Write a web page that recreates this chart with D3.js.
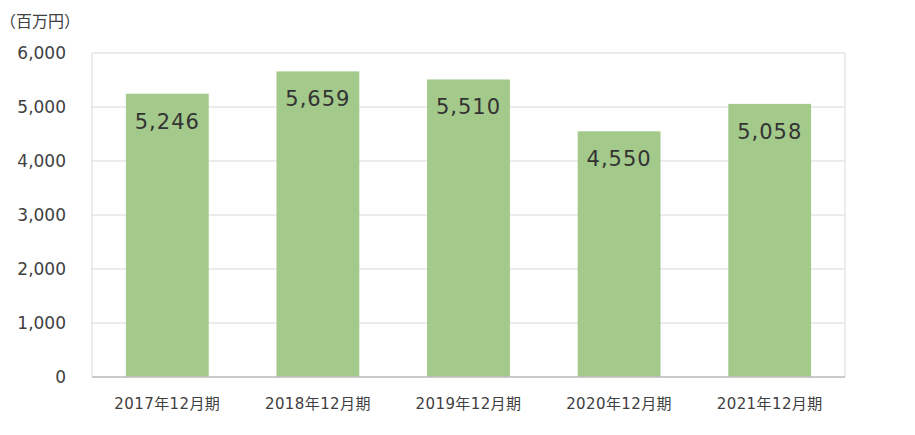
<!DOCTYPE html>
<html>
<head>
<meta charset="utf-8">
<script src="https://cdn.jsdelivr.net/npm/d3@7"></script>
<style>
  body { margin: 0; background: #fff; }
  svg { display: block; }
</style>
</head>
<body>
<svg id="chart"></svg>
<script>
// Chart data
var categories = ["2017年12月期", "2018年12月期", "2019年12月期", "2020年12月期", "2021年12月期"];
var values = [5246, 5659, 5510, 4550, 5058];
var yTicks = [0, 1000, 2000, 3000, 4000, 5000, 6000];
var unitLabel = "（百万円）";

var svgWidth = 915;
var svgHeight = 435;
var margin = { top: 53, right: 70, bottom: 58, left: 92 };
var chartWidth = svgWidth - margin.left - margin.right;
var chartHeight = svgHeight - margin.top - margin.bottom;

var svg = d3.select("#chart")
  .attr("width", svgWidth)
  .attr("height", svgHeight);

var chart = svg.append("g")
  .attr("transform", "translate(" + margin.left + "," + margin.top + ")");

var xScale = d3.scaleBand()
  .domain(categories)
  .range([0, chartWidth])
  .paddingInner(0.45)
  .paddingOuter(0.225);

var yScale = d3.scaleLinear()
  .domain([0, 6000])
  .range([chartHeight, 0]);

var fmt = d3.format(",");

// Gridlines
chart.selectAll(".grid")
  .data(yTicks)
  .enter()
  .append("line")
  .attr("class", "grid")
  .attr("x1", 0)
  .attr("x2", chartWidth)
  .attr("y1", function (d) { return yScale(d); })
  .attr("y2", function (d) { return yScale(d); })
  .attr("stroke", "#d9d9d9")
  .attr("stroke-width", 1);

// Plot border (left and right)
chart.append("line")
  .attr("x1", 0).attr("x2", 0)
  .attr("y1", 0).attr("y2", chartHeight)
  .attr("stroke", "#d9d9d9");
chart.append("line")
  .attr("x1", chartWidth).attr("x2", chartWidth)
  .attr("y1", 0).attr("y2", chartHeight)
  .attr("stroke", "#d9d9d9");

// Bars
chart.selectAll(".bar")
  .data(values)
  .enter()
  .append("rect")
  .attr("class", "bar")
  .attr("x", function (d, i) { return xScale(categories[i]); })
  .attr("y", function (d) { return yScale(d); })
  .attr("width", xScale.bandwidth())
  .attr("height", function (d) { return chartHeight - yScale(d); })
  .attr("fill", "#a3c98b");

// Bar value labels
chart.selectAll(".bar-value")
  .data(values)
  .enter()
  .append("text")
  .attr("class", "bar-value")
  .attr("x", function (d, i) { return xScale(categories[i]) + xScale.bandwidth() / 2; })
  .attr("y", function (d) { return yScale(d) + 35; })
  .attr("text-anchor", "middle")
  .style("font-family", "'DejaVu Sans', Verdana, sans-serif")
  .style("font-size", "21px")
  .style("letter-spacing", "1px")
  .style("fill", "#333")
  .text(function (d) { return fmt(d); });

// Bottom axis line
chart.append("line")
  .attr("x1", 0).attr("x2", chartWidth)
  .attr("y1", chartHeight).attr("y2", chartHeight)
  .attr("stroke", "#bfbfbf")
  .attr("stroke-width", 1.5);

// Y axis
var yAxis = chart.append("g")
  .attr("class", "axis")
  .call(d3.axisLeft(yScale).tickValues(yTicks).tickFormat(fmt).tickSize(0).tickPadding(26));
yAxis.select(".domain").remove();
yAxis.selectAll("text")
  .style("font-family", "'DejaVu Sans', Verdana, sans-serif")
  .style("font-size", "17px")
  .style("fill", "#404040");

// X axis
var xAxis = chart.append("g")
  .attr("class", "axis")
  .attr("transform", "translate(0," + chartHeight + ")")
  .call(d3.axisBottom(xScale).tickSize(0).tickPadding(21));
xAxis.select(".domain").remove();
xAxis.selectAll("text")
  .style("font-family", "'DejaVu Sans', 'Noto Sans CJK JP', sans-serif")
  .style("font-size", "15px")
  .style("letter-spacing", "0.4px")
  .style("fill", "#404040");

// Unit label
svg.append("text")
  .attr("x", 0)
  .attr("y", 27)
  .style("font-family", "'Noto Sans CJK JP', sans-serif")
  .style("font-size", "16px")
  .style("fill", "#404040")
  .text(unitLabel);
</script>
</body>
</html>
